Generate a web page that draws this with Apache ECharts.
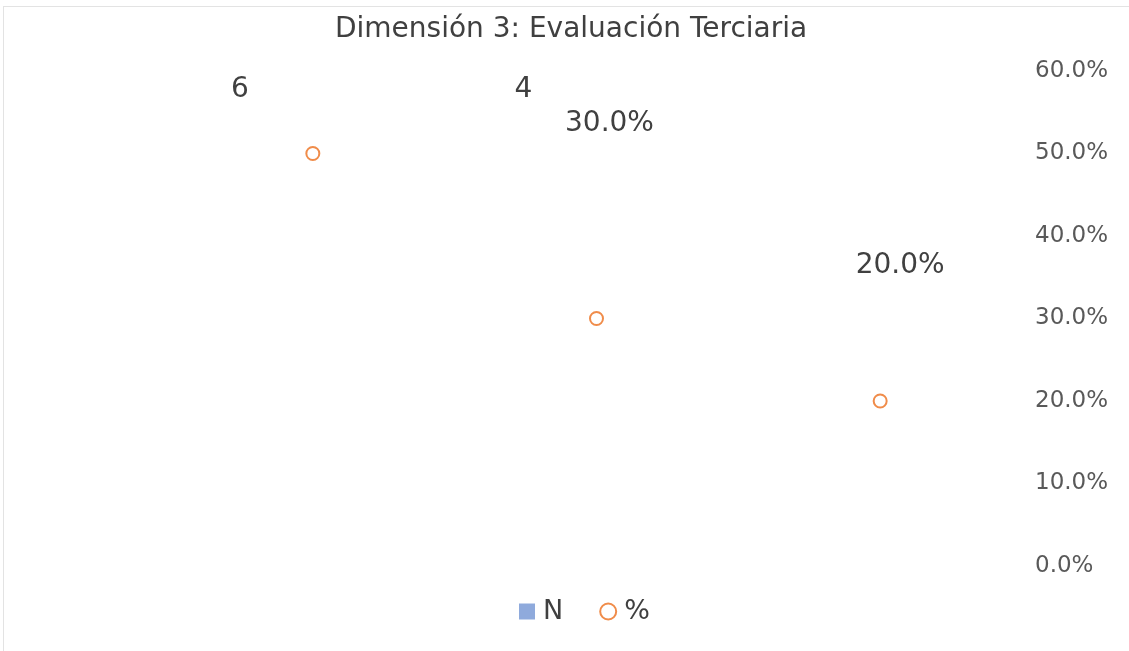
<!DOCTYPE html>
<html>
<head>
<meta charset="utf-8">
<script src="https://cdn.jsdelivr.net/npm/echarts@6/dist/echarts.min.js"></script>
<style>
html,body{margin:0;padding:0;background:#fff;}
#frame{position:absolute;left:3px;top:6px;width:1200px;height:700px;border-left:1px solid #e3e3e3;border-top:1px solid #e3e3e3;}
#chart{position:absolute;left:0;top:0;width:1129px;height:651px;}
</style>
</head>
<body>
<div id="frame"></div>
<div id="chart"></div>
<script>
const titleText = 'Dimensión 3: Evaluación Terciaria';
const categories = ['Categoría 1', 'Categoría 2', 'Categoría 3'];
const nValues = [6, 4, null];
const pctValues = [0.5, 0.3, 0.2];
const pctTicks = [0, 0.1, 0.2, 0.3, 0.4, 0.5, 0.6];
const seriesNames = ['N', '%'];

// label styling per point (the reference shows labels displaced away from their points)
const pctLabelStyles = [
  { show: false },
  { show: true, offset: [13, -195] },
  { show: true, offset: [20, -135] }
];

const FONT = '"DejaVu Sans", sans-serif';
const TEXT_DARK = '#404040';
const pctBaseLabel = {
  position: 'inside',
  fontFamily: FONT,
  fontSize: 28,
  color: TEXT_DARK,
  formatter: p => (p.value * 100).toFixed(1) + '%'
};

const chart = echarts.init(document.getElementById('chart'));
chart.setOption({
  backgroundColor: 'transparent',
  animation: false,
  title: {
    text: titleText,
    left: 330,
    top: 11,
    textStyle: { fontFamily: FONT, fontSize: 28, fontWeight: 'normal', color: '#404040' }
  },
  legend: {
    bottom: 21,
    left: 514,
    itemGap: 36,
    itemWidth: 16,
    itemHeight: 16,
    textStyle: { fontFamily: FONT, fontSize: 27, color: TEXT_DARK, padding: [0, 0, 0, 3] },
    data: [
      { name: seriesNames[0], icon: 'rect', itemStyle: { color: '#8FAADC', opacity: 1 } },
      { name: seriesNames[1], icon: 'emptyCircle' }
    ]
  },
  grid: { left: 171, right: 107, top: 71, bottom: 85 },
  xAxis: {
    type: 'category',
    data: categories,
    axisLine: { show: false },
    axisTick: { show: false },
    axisLabel: { show: false },
    splitLine: { show: false }
  },
  yAxis: [
    {
      type: 'value',
      min: 0,
      max: 1,
      show: false,
      splitLine: { show: false }
    },
    {
      type: 'value',
      position: 'right',
      min: pctTicks[0],
      max: pctTicks[pctTicks.length - 1],
      interval: 0.1,
      axisLine: { show: false },
      axisTick: { show: false },
      splitLine: { show: false },
      axisLabel: {
        margin: 13,
        fontFamily: FONT,
        fontSize: 23,
        color: '#595959',
        formatter: v => (v * 100).toFixed(1) + '%'
      }
    }
  ],
  series: [
    {
      name: seriesNames[0],
      type: 'bar',
      yAxisIndex: 0,
      data: nValues,
      barWidth: 60,
      clip: true,
      itemStyle: { color: 'rgba(143,170,220,0)' },
      label: {
        show: true,
        position: 'insideTop',
        distance: 5,
        offset: [-73, 0],
        fontFamily: FONT,
        fontSize: 28,
        color: TEXT_DARK
      }
    },
    {
      name: seriesNames[1],
      type: 'scatter',
      yAxisIndex: 1,
      symbol: 'emptyCircle',
      symbolSize: 13,
      itemStyle: { color: '#F08C4A', borderWidth: 2, opacity: 1 },
      data: pctValues.map((v, i) => ({ value: v, label: Object.assign({}, pctBaseLabel, pctLabelStyles[i]) }))
    }
  ]
});
</script>
</body>
</html>
